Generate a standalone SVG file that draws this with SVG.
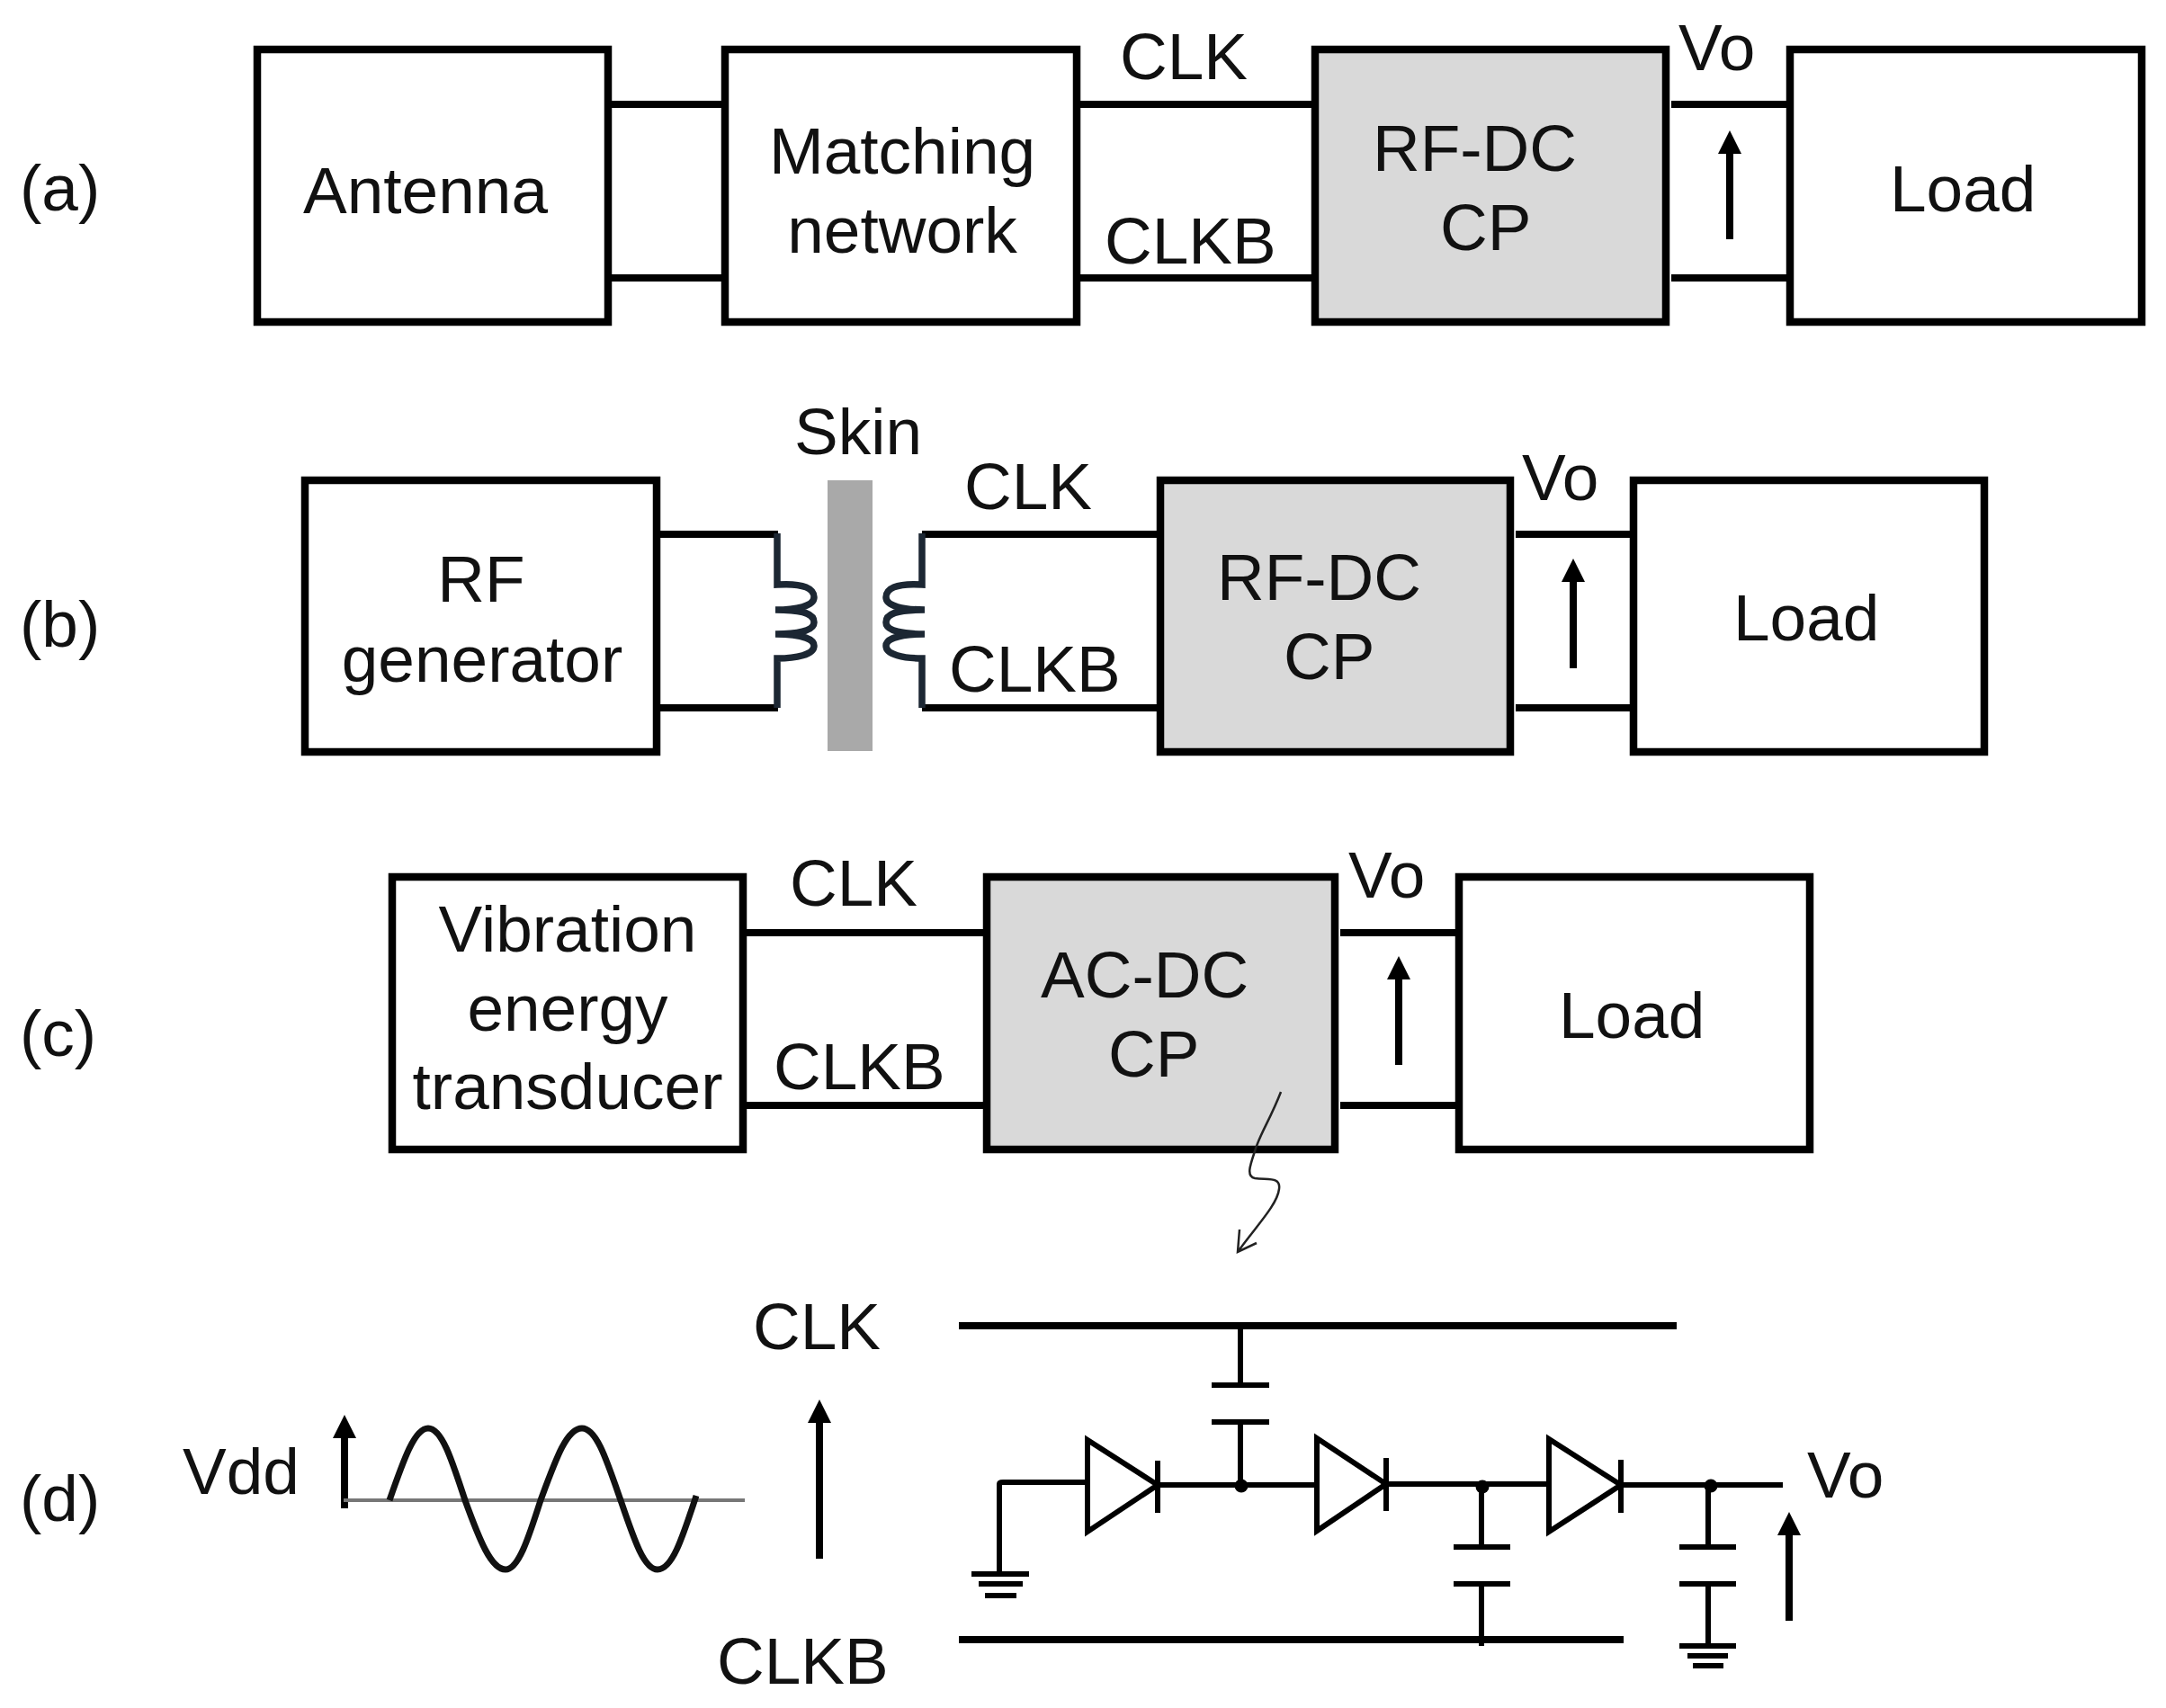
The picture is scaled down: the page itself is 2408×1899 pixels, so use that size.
<svg xmlns="http://www.w3.org/2000/svg" width="2408" height="1899" viewBox="0 0 2408 1899">
<style>
text{font-family:"Liberation Sans",Arial,sans-serif;font-size:73px;fill:#111}
.m{text-anchor:middle}
.box{fill:#fff;stroke:#000;stroke-width:8.5}
.cp{fill:#d9d9d9;stroke:#000;stroke-width:8.5}
.w{fill:none;stroke:#000;stroke-width:8}
.t{fill:none;stroke:#000;stroke-width:6}
.a{stroke:#000;stroke-width:8;marker-end:url(#ah)}
.coil{fill:none;stroke:#1c2733;stroke-width:7.5}
</style>
<defs><marker id="ah" markerUnits="userSpaceOnUse" markerWidth="26" markerHeight="26" viewBox="0 0 26 26" refX="5" refY="13" orient="auto"><path d="M0 0L26 13L0 26z" fill="#000"/></marker></defs>
<rect width="2408" height="1899" fill="#fff"/>
<g id="connectors">
<path class="w" d="M676 116H806M676 309H806M1197 116H1462M1197 309H1462M1858 116H1990M1858 309H1990"/>
<path class="w" d="M730 594H865M730 787H865M1025 594H1290M1025 787H1290M1685 594H1816M1685 787H1816"/>
<path class="w" d="M826 1037H1097M826 1229H1097M1490 1037H1622M1490 1229H1622"/>
<line class="a" x1="1923" y1="266" x2="1923" y2="166"/>
<line class="a" x1="1749" y1="743" x2="1749" y2="642"/>
<line class="a" x1="1555" y1="1184" x2="1555" y2="1084"/>
<line class="a" x1="911" y1="1733" x2="911" y2="1577"/>
<line class="a" x1="383" y1="1677" x2="383" y2="1594"/>
<line class="a" x1="1989" y1="1802" x2="1989" y2="1702"/>
</g>
<g id="skin"><rect x="920" y="534" width="50" height="301" fill="#a9a9a9"/></g>
<g id="coil-left"><path class="coil" d="M864 593V650C895 648 905 655 905 664C905 674 885 678 862 678C895 678 905 683 905 692C905 702 885 705 862 705C895 705 905 712 905 718C905 728 885 732 864 732V787"/></g>
<g id="coil-right"><path class="coil" d="M1025 593V650C995 648 985 655 985 664C985 674 1005 678 1028 678C995 678 985 683 985 692C985 702 1005 705 1028 705C995 705 985 712 985 718C985 728 1005 732 1025 732V787"/></g>

<g id="antenna"><rect class="box" x="286" y="55" width="390" height="303"/><text class="m" x="473" y="237">Antenna</text></g>
<g id="matching"><rect class="box" x="806" y="55" width="391" height="303"/><text class="m" x="1003" y="193">Matching</text><text class="m" x="1003" y="281">network</text></g>
<g id="rfdc-a"><rect class="cp" x="1462" y="55" width="390" height="303"/><text x="1526" y="190">RF-DC</text><text x="1601" y="278">CP</text></g>
<g id="load-a"><rect class="box" x="1990" y="55" width="391" height="303"/><text x="2101" y="235">Load</text></g>

<g id="rfgen"><rect class="box" x="339" y="534" width="391" height="302"/><text class="m" x="535" y="669">RF</text><text class="m" x="536" y="758">generator</text></g>
<g id="rfdc-b"><rect class="cp" x="1290" y="534" width="389" height="302"/><text x="1353" y="667">RF-DC</text><text x="1427" y="755">CP</text></g>
<g id="load-b"><rect class="box" x="1816" y="534" width="390" height="302"/><text x="1927" y="712">Load</text></g>

<g id="vibration"><rect class="box" x="436" y="975" width="390" height="303"/><text class="m" x="631" y="1058">Vibration</text><text class="m" x="631" y="1146">energy</text><text class="m" x="631" y="1233">transducer</text></g>
<g id="acdc"><rect class="cp" x="1097" y="975" width="387" height="303"/><text x="1157" y="1109">AC-DC</text><text x="1232" y="1197">CP</text></g>
<g id="load-c"><rect class="box" x="1622" y="975" width="390" height="303"/><text x="1733" y="1154">Load</text></g>

<g id="labels">
<text x="22" y="234">(a)</text><text x="22" y="719">(b)</text><text x="22" y="1174">(c)</text><text x="22" y="1691">(d)</text>
<text x="1245" y="88">CLK</text><text x="1228" y="293">CLKB</text><text x="1866" y="78">Vo</text>
<text x="883" y="505">Skin</text><text x="1072" y="566">CLK</text><text x="1055" y="769">CLKB</text><text x="1692" y="556">Vo</text>
<text x="878" y="1007">CLK</text><text x="860" y="1211">CLKB</text><text x="1499" y="998">Vo</text>
<text x="203" y="1661">Vdd</text><text x="837" y="1500">CLK</text><text x="797" y="1872">CLKB</text><text x="2009" y="1665">Vo</text>
</g>

<g id="waveform">
<line x1="382" y1="1668" x2="828" y2="1668" stroke="#777" stroke-width="4"/>
<path fill="none" stroke="#111" stroke-width="7" d="M433 1668C449 1622 461 1588 476 1588C491 1588 502 1622 517 1668C533 1712 546 1745 562 1745C576 1745 587 1712 601 1668C618 1622 630 1588 647 1588C663 1588 674 1622 690 1668C705 1712 716 1745 731 1745C747 1745 758 1712 774 1663"/>
</g>

<g id="circuit">
<path class="w" d="M1066 1474H1864M1066 1823H1805"/>
<path class="t" d="M1379 1475V1540M1347 1540H1411M1347 1581H1411M1379 1581V1652"/>
<path class="t" d="M1111 1750V1650Q1111 1648 1115 1648H1209M1287 1651H1464M1541 1650H1722M1802 1651H1982"/>
<path class="t" d="M1080 1750H1144M1088 1761H1137M1095 1774H1130"/>
<path class="t" d="M1209 1601V1703L1287 1651ZM1287 1624V1682"/>
<path class="t" d="M1464 1599V1702L1541 1650ZM1541 1621V1680"/>
<path class="t" d="M1722 1600V1703L1802 1651ZM1802 1623V1682"/>
<path class="t" d="M1647 1650V1720M1616 1720H1679M1616 1761H1679M1647 1761V1830"/>
<path class="t" d="M1899 1652V1720M1867 1720H1930M1867 1761H1930M1899 1761V1830M1867 1830H1930M1876 1841H1921M1882 1852H1916"/>
<circle cx="1380" cy="1652" r="7.5"/><circle cx="1648" cy="1653" r="7.5"/><circle cx="1902" cy="1652" r="7.5"/>
</g>
<g id="callout"><path fill="none" stroke="#222" stroke-width="2.5" d="M1424 1214C1412 1245 1400 1262 1395 1280C1390 1295 1385 1308 1395 1310C1410 1312 1424 1308 1422 1322C1420 1340 1395 1365 1376 1392M1378 1367L1376 1392L1397 1382"/></g>
</svg>
